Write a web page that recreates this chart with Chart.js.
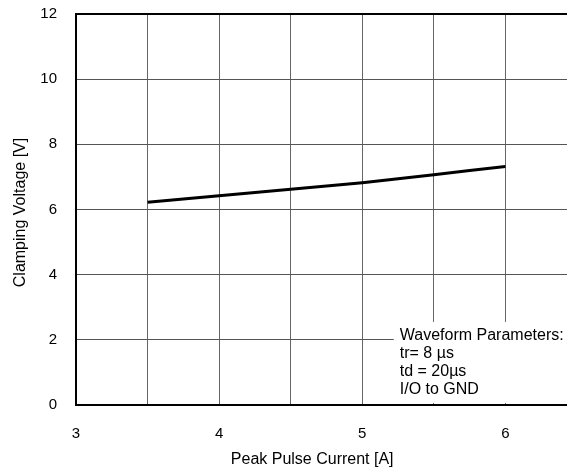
<!DOCTYPE html>
<html>
<head>
<meta charset="utf-8">
<script src="https://cdn.jsdelivr.net/npm/chart.js@4"></script>
<style>
html,body{margin:0;padding:0;background:#fff;overflow:hidden;}
#wrap{position:relative;width:600px;height:468px;}
</style>
</head>
<body>
<div id="wrap"><canvas id="c"></canvas></div>
<script>
const peakCurrent = [3.5, 4, 4.5, 5, 5.5, 6];
const clampVoltage = [6.22, 6.42, 6.62, 6.82, 7.07, 7.32];
const xTickLabels = [3, 4, 5, 6];
const yTickLabels = [0, 2, 4, 6, 8, 10, 12];
const xTitle = 'Peak Pulse Current [A]';
const yTitle = 'Clamping Voltage [V]';
const noteLines = ['Waveform Parameters:', 'tr= 8 µs', 'td = 20µs', 'I/O to GND'];

const FONT = '"Liberation Sans", Arial, sans-serif';

const overlay = {
  id: 'overlay',
  afterDatasetsDraw(chart) {
    const ctx = chart.ctx, a = chart.chartArea;
    const xs = chart.scales.x, ys = chart.scales.y;
    ctx.save();
    // annotation box
    const bx = xs.getPixelForValue(5.22), by = ys.getPixelForValue(2.55);
    ctx.fillStyle = '#fff';
    ctx.fillRect(bx, by, chart.width - bx, a.bottom - 2 - by);
    ctx.fillStyle = '#000';
    ctx.font = '16px ' + FONT;
    ctx.textAlign = 'left';
    ctx.textBaseline = 'alphabetic';
    noteLines.forEach((t, i) => ctx.fillText(t, bx + 6, by + 18 + i * 18));
    // axis titles
    ctx.font = '16px ' + FONT;
    ctx.textAlign = 'center';
    ctx.textBaseline = 'middle';
    ctx.fillText(xTitle, xs.getPixelForValue(4.65), 460);
    ctx.translate(21, (a.top + a.bottom) / 2 + 3);
    ctx.rotate(-Math.PI / 2);
    ctx.fillText(yTitle, 0, 0);
    ctx.restore();
  }
};

new Chart(document.getElementById('c'), {
  type: 'line',
  data: {
    datasets: [{
      data: peakCurrent.map((x, i) => ({ x: x, y: clampVoltage[i] })),
      borderColor: '#000',
      borderWidth: 3,
      pointRadius: 0,
      fill: false,
      tension: 0.2
    }]
  },
  options: {
    responsive: true,
    maintainAspectRatio: false,
    animation: false,
    layout: { padding: { left: 0, right: 23, top: 14, bottom: 0 } },
    plugins: { legend: { display: false }, tooltip: { enabled: false } },
    scales: {
      x: {
        type: 'linear',
        min: 3, max: 6.5,
        afterFit(s) { s.height = 63; s.paddingLeft = 0; s.paddingRight = 0; },
        border: { color: '#000', width: 2 },
        grid: { color: '#666', lineWidth: 1, drawTicks: false },
        ticks: {
          stepSize: 0.5,
          autoSkip: false,
          maxRotation: 0,
          padding: 20,
          color: '#000',
          font: { size: 15, family: FONT },
          callback: v => xTickLabels.includes(v) ? String(v) : ''
        }
      },
      y: {
        min: 0, max: 12,
        afterFit(s) { s.width = 76; s.paddingTop = 0; s.paddingBottom = 0; },
        border: { color: '#000', width: 2 },
        grid: {
          drawTicks: false,
          color: c => c.tick && c.tick.value === 12 ? '#000' : '#555',
          lineWidth: c => c.tick && c.tick.value === 12 ? 2 : 1
        },
        ticks: {
          stepSize: 2,
          padding: 19,
          color: '#000',
          font: { size: 15, family: FONT },
          callback: v => yTickLabels.includes(v) ? String(v) : ''
        }
      }
    }
  },
  plugins: [overlay]
});
</script>
</body>
</html>
